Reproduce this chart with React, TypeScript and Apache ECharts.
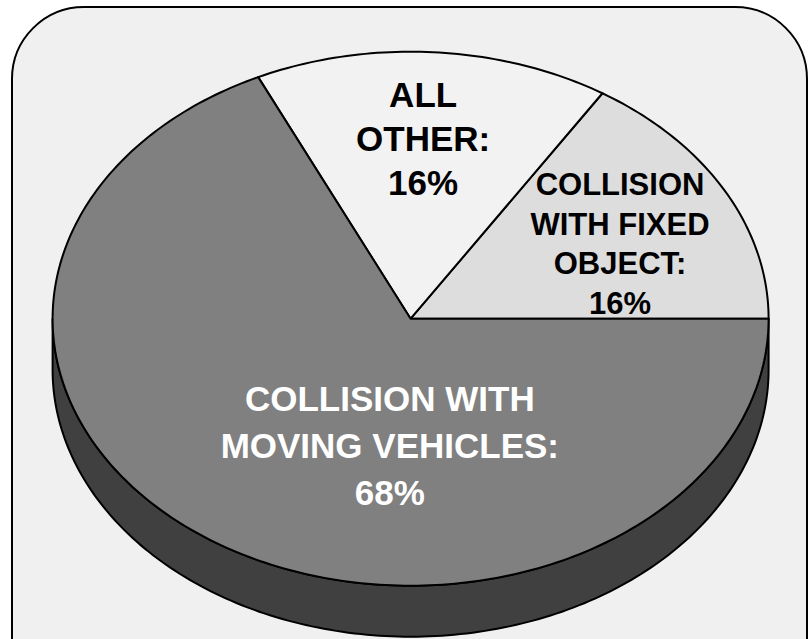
import React, { useEffect, useRef } from "react";
import * as echarts from "echarts";

// ---- data ----
const categories = [
  "COLLISION WITH FIXED OBJECT",
  "ALL OTHER",
  "COLLISION WITH MOVING VEHICLES",
];
const labelTexts = [
  "COLLISION\nWITH FIXED\nOBJECT:",
  "ALL\nOTHER:",
  "COLLISION WITH\nMOVING VEHICLES:",
];
const shares = [16, 16, 68];

// ---- styles / layout ----
const sliceColors = ["#dddddd", "#f2f2f2", "#808080"];
const labelColors = ["#000000", "#000000", "#ffffff"];
const sideColor = "#404040";
const LAYOUT = { cx: 410.6, cy: 318.7, rx: 358, ry: 267, depth: 51, startDeg: 0 };
const LABEL_POS: [number, number][] = [
  [0.585, -0.279],
  [0.035, -0.676],
  [-0.058, 0.474],
];
const LABEL_FONT = [31, 35, 35];
const LABEL_LH = [39.5, 44, 47];
const FONT = "'Liberation Sans', Arial, Helvetica, sans-serif";

export default function App() {
  const ref = useRef<HTMLDivElement>(null);
  useEffect(() => {
    if (!ref.current) return;
    const chart = echarts.init(ref.current, null, { renderer: "svg" });
    const total = shares.reduce((a, b) => a + b, 0);
    const { cx, cy, rx, ry, depth, startDeg } = LAYOUT;
    const pt = (deg: number, dy = 0) => {
      const r = (deg * Math.PI) / 180;
      return [cx + rx * Math.cos(r), cy - ry * Math.sin(r) + dy];
    };
    const arc = (from: number, to: number, dy = 0) => {
      const n = Math.max(2, Math.ceil(Math.abs(to - from)));
      const out: number[][] = [];
      for (let j = 0; j <= n; j++) out.push(pt(from + ((to - from) * j) / n, dy));
      return out;
    };
    chart.setOption({
      animation: false,
      backgroundColor: "#ffffff",
      graphic: [
        {
          type: "rect",
          z: -10,
          shape: { x: 12, y: 7, width: 795, height: 720, r: 72 },
          style: { fill: "#f0f0f0", stroke: "#000000", lineWidth: 2 },
        },
      ],
      series: [
        {
          type: "custom",
          coordinateSystem: "none",
          data: shares.map((v, i) => ({ value: v, name: categories[i] })),
          renderItem: (params: any, api: any) => {
            const i = params.dataIndex;
            const v = api.value(0);
            let before = 0;
            for (let k = 0; k < i; k++) before += shares[k];
            const a0 = startDeg + (before / total) * 360;
            const a1 = a0 + (v / total) * 360;
            const children: any[] = [];
            const s0 = Math.max(a0, 180);
            const s1 = Math.min(a1, 360);
            if (s1 > s0) {
              children.push({
                type: "polygon",
                shape: { points: arc(s0, s1).concat(arc(s1, s0, depth)) },
                style: { fill: sideColor, stroke: "#000000", lineWidth: 2, lineJoin: "round" },
              });
            }
            children.push({
              type: "polygon",
              shape: { points: [[cx, cy]].concat(arc(a0, a1)) },
              style: { fill: sliceColors[i], stroke: "#000000", lineWidth: 2, lineJoin: "round" },
            });
            children.push({
              type: "text",
              x: cx + LABEL_POS[i][0] * rx,
              y: cy + LABEL_POS[i][1] * ry,
              style: {
                text: labelTexts[i] + "\n" + Math.round((v / total) * 100) + "%",
                fill: labelColors[i],
                fontSize: LABEL_FONT[i],
                fontWeight: "bold",
                fontFamily: FONT,
                lineHeight: LABEL_LH[i],
                align: "center",
                verticalAlign: "middle",
              },
            });
            return { type: "group", children };
          },
        },
      ],
    });
    return () => chart.dispose();
  }, []);
  return (
    <div
      ref={ref}
      style={{ position: "fixed", left: 0, top: 0, width: 812, height: 639 }}
    />
  );
}
